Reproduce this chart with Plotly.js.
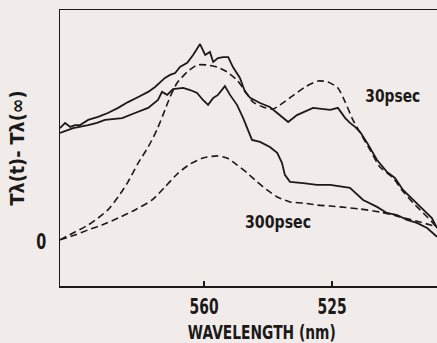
<!DOCTYPE html>
<html>
<head>
<meta charset="utf-8">
<script src="https://cdn.plot.ly/plotly-3.0.1.min.js"></script>
<style>html,body{margin:0;padding:0;background:#f1ece9;}#chart{width:437px;height:343px;}</style>
</head>
<body>
<div id="chart"></div>
<script>
// Wavelength (nm) and signal (arbitrary units)
const solid30_x = [599.4,598.0,596.6,595.3,593.9,591.7,589.0,586.3,583.5,580.8,578.0,575.3,573.4,570.7,569.3,567.9,566.6,564.6,563.0,561.1,559.7,558.4,557.5,556.2,554.8,553.4,552.1,550.2,548.8,547.4,544.7,542.0,540.0,538.4,537.0,534.6,530.2,525.5,523.4,521.4,520.1,518.7,517.3,515.4,512.7,510.0,507.8,505.6,502.8,500.1,497.7,496.3];
const solid30_y = [49.1,51.3,49.6,50.4,50.4,52.6,53.9,55.6,57.8,60.3,62.5,64.7,66.8,70.7,72.0,72.8,75.4,77.2,80.6,85.3,80.6,81.9,77.6,79.3,79.7,79.7,75.4,70.7,64.7,62.1,59.9,58.2,55.6,53.4,51.7,54.7,57.8,56.9,57.8,53.4,51.3,49.6,47.4,42.7,35.3,30.2,27.6,22.4,18.1,13.8,10.3,6.0];

const solid300_x = [599.4,595.8,591.7,589.3,587.1,583.8,582.4,578.9,575.3,572.6,571.5,570.1,568.5,565.7,563.8,561.9,560.3,558.9,557.5,556.2,554.3,552.9,551.0,549.3,548.0,546.9,544.7,542.0,540.0,538.7,537.9,536.5,532.9,529.1,525.5,522.8,520.1,516.5,512.7,510.0,507.2,504.5,501.8,499.0,496.3];
const solid300_y = [47.0,49.1,50.4,51.3,52.6,53.0,53.4,55.6,57.8,61.2,64.7,63.4,65.9,66.4,65.5,64.2,61.2,59.1,62.1,63.4,67.2,63.4,59.1,53.4,48.3,44.0,43.1,40.9,38.4,34.1,28.9,25.9,25.4,24.6,24.6,24.1,23.3,18.1,15.1,12.5,11.6,9.5,8.2,6.0,2.2];

const dash30_x = [599.4,595.3,591.7,589.0,586.3,583.5,580.8,578.0,575.3,572.9,570.7,569.3,567.4,564.6,561.9,559.2,556.4,553.7,551.0,548.8,546.6,543.9,541.1,539.2,536.2,532.4,528.8,526.1,523.4,521.4,519.3,517.3,514.6,511.9,508.3,505.9,502.8,500.1,497.4,496.3];
const dash30_y = [0.9,4.3,7.3,10.3,13.8,19.4,25.9,34.1,40.9,48.3,56.9,62.5,68.5,73.3,76.3,76.3,75.4,73.3,69.8,65.1,60.3,58.2,57.3,59.1,62.5,66.8,69.4,69.0,66.4,60.3,52.6,47.0,39.7,32.3,27.6,22.4,16.8,12.5,8.2,6.0];

const dash300_x = [599.4,595.3,591.7,587.9,583.5,578.9,574.2,570.7,567.1,563.8,560.3,556.4,553.7,551.0,548.2,545.5,542.8,540.0,536.5,532.9,529.1,525.5,522.8,517.3,511.9,506.4,501.0,496.3];
const dash300_y = [0.9,3.0,5.2,7.3,10.3,13.8,18.1,23.7,29.7,33.6,36.2,37.1,36.2,33.2,29.7,25.9,22.4,19.4,17.2,16.8,15.9,15.5,15.1,14.2,12.9,10.8,8.6,6.5];

const xTicks = [560, 525];
const yTicks = [0];
const seriesLabels = ["30psec", "300psec"];
const xTitle = 'WAVELENGTH (nm)';
const yTitle = 'Tλ(t)- Tλ(∞)';

const ink = '#1b1919';
const fnt = '"DejaVu Sans", sans-serif';

const traces = [
  {x: solid30_x, y: solid30_y, mode: 'lines', line: {color: ink, width: 1.8}},
  {x: solid300_x, y: solid300_y, mode: 'lines', line: {color: ink, width: 1.8}},
  {x: dash30_x, y: dash30_y, mode: 'lines', line: {color: ink, width: 1.6, dash: '7px,4px', shape: 'spline', smoothing: 0.6}},
  {x: dash300_x, y: dash300_y, mode: 'lines', line: {color: ink, width: 1.6, dash: '7px,4px', shape: 'spline', smoothing: 0.6}}
];

const layout = {
  width: 437, height: 343,
  margin: {l: 60, r: 0, t: 10, b: 57},
  paper_bgcolor: '#f1ece9', plot_bgcolor: '#f1ece9',
  showlegend: false,
  xaxis: {
    range: [599.4, 496.3], showgrid: false, zeroline: false,
    showline: true, linecolor: ink, linewidth: 1.5, mirror: true,
    tickmode: 'array', tickvals: xTicks, ticktext: xTicks.map(String),
    ticks: 'inside', ticklen: 5, tickcolor: ink, tickwidth: 1.3,
    tickfont: {family: fnt, size: 22, color: ink, weight: 'bold'}
  },
  yaxis: {
    range: [-19, 100], showgrid: false, zeroline: false,
    showline: true, linecolor: ink, linewidth: 1.5,
    tickmode: 'array', tickvals: yTicks, ticktext: ['0'],
    ticks: '', ticklabelstandoff: 8,
    tickfont: {family: fnt, size: 21, color: ink, weight: 'bold'},
    title: {text: yTitle, font: {family: fnt, size: 19, color: ink, weight: 'bold'}, standoff: 2}
  },
  annotations: [
    {x: 508.3, y: 62.9, xref: 'x', yref: 'y', text: seriesLabels[0], showarrow: false,
     xanchor: 'center', yanchor: 'middle',
     font: {family: fnt, size: 17, color: ink, weight: 'bold'}},
    {x: 539.8, y: 8.6, xref: 'x', yref: 'y', text: seriesLabels[1], showarrow: false,
     xanchor: 'center', yanchor: 'middle',
     font: {family: fnt, size: 18, color: ink, weight: 'bold'}},
    {x: 0.536, y: -0.167, xref: 'paper', yref: 'paper', text: xTitle, showarrow: false,
     xanchor: 'center', yanchor: 'middle',
     font: {family: fnt, size: 19, color: ink, weight: 'bold'}}
  ]
};

// condensed look: target widths (px) of each text, as in the reference
const textWidths = {'560': 29, '525': 29, '0': 10, 'WAVELENGTH (nm)': 148, '30psec': 55, '300psec': 66};
textWidths[yTitle] = 115;

Plotly.newPlot('chart', traces, layout, {staticPlot: true, displayModeBar: false}).then(function (gd) {
  gd.querySelectorAll('svg text').forEach(function (t) {
    const s = t.textContent;
    if (textWidths[s] !== undefined) {
      t.setAttribute('textLength', textWidths[s]);
      t.setAttribute('lengthAdjust', 'spacingAndGlyphs');
    }
  });
});
</script>
</body>
</html>
